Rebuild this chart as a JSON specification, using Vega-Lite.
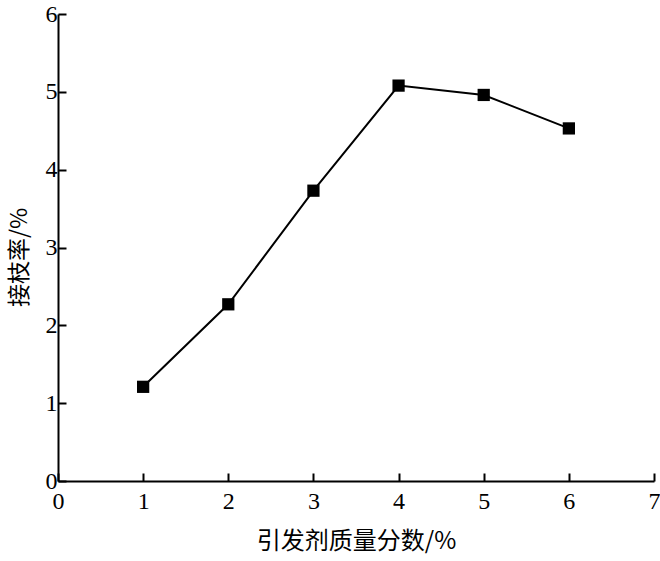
{
  "$schema": "https://vega.github.io/schema/vega-lite/v6.json",
  "autosize": "none",
  "width": 596,
  "height": 467,
  "padding": {"left": 58, "top": 14, "right": 6, "bottom": 80},
  "background": "white",
  "config": {"view": {"stroke": null}},
  "data": {"values": [
    {"x": 1, "y": 1.21},
    {"x": 2, "y": 2.27},
    {"x": 3, "y": 3.73},
    {"x": 4, "y": 5.08},
    {"x": 5, "y": 4.96},
    {"x": 6, "y": 4.53}
  ]},
  "encoding": {
    "x": {"field": "x", "type": "quantitative", "scale": {"domain": [0, 7], "nice": false},
      "axis": {"title": "引发剂质量分数/%", "values": [0,1,2,3,4,5,6,7], "grid": false, "labelFlush": false,
        "domainColor": "black", "domainWidth": 2, "tickColor": "black", "tickWidth": 2, "tickSize": -8,
        "labelFont": "Liberation Serif", "labelFontSize": 24, "labelColor": "black", "labelPadding": 16,
        "titleFont": "Noto Sans CJK SC", "titleFontSize": 24, "titleFontWeight": "normal", "titleColor": "black", "titlePadding": 16}},
    "y": {"field": "y", "type": "quantitative", "scale": {"domain": [0, 6], "nice": false},
      "axis": {"title": "接枝率/%", "values": [0,1,2,3,4,5,6], "grid": false, "labelFlush": false,
        "domainColor": "black", "domainWidth": 2, "tickColor": "black", "tickWidth": 2, "tickSize": -8,
        "labelFont": "Liberation Serif", "labelFontSize": 24, "labelColor": "black", "labelPadding": 9,
        "titleFont": "Noto Sans CJK SC", "titleFontSize": 23, "titleFontWeight": "normal", "titleColor": "black", "titleX": -27, "titleY": 243, "titleBaseline": "bottom", "titleAngle": -90}}
  },
  "layer": [
    {"mark": {"type": "line", "color": "black", "strokeWidth": 2}},
    {"mark": {"type": "point", "shape": "square", "filled": true, "color": "black", "size": 150, "opacity": 1}}
  ]
}
